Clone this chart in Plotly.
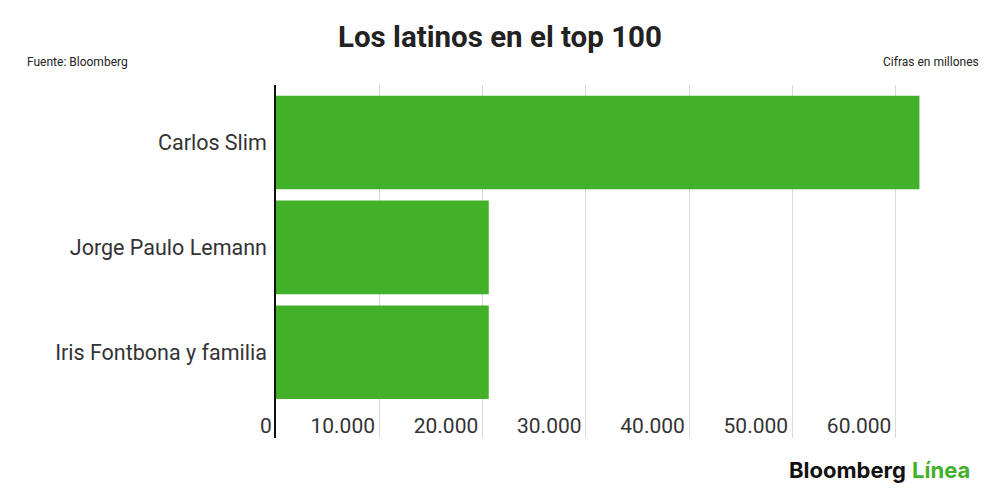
import plotly.graph_objects as go

# datos (millones de USD)
nombres = ["Carlos Slim", "Jorge Paulo Lemann", "Iris Fontbona y familia"]
fortunas = [62300, 20600, 20600]
ticks_x = [0, 10000, 20000, 30000, 40000, 50000, 60000]
ticks_txt = ["0", "10.000", "20.000", "30.000", "40.000", "50.000", "60.000"]

VERDE = "#43b02a"
FONT = "Roboto"

fig = go.Figure()
fig.add_trace(go.Bar(
    x=fortunas, y=nombres, orientation="h",
    marker=dict(color=VERDE, line=dict(width=0)),
    hoverinfo="x+y",
))

W, H = 1000, 500
left, right, top, bottom = 268, 929, 77, 430
ph = bottom - top
pw = right - left
pos_axis = (bottom - 403) / ph

fig.update_layout(
    width=W, height=H,
    margin=dict(l=left, r=W - right, t=top, b=H - bottom, autoexpand=False),
    paper_bgcolor="white", plot_bgcolor="white",
    showlegend=False,
    bargap=0.107,
    font=dict(family=FONT, color="#333333"),
    title=dict(text="<b>Los latinos en el top 100</b>", x=492 / W, xanchor="center",
               y=1 - 29 / H, yanchor="middle", font=dict(size=29.5, color="#222222", family=FONT)),
    xaxis=dict(
        range=[0, 64000], tickvals=ticks_x,
        ticktext=[t + "\u2009" for t in ticks_txt],
        showgrid=True, gridcolor="#dadada", gridwidth=1,
        zeroline=False, showline=False, ticks="",
        anchor="free", position=pos_axis, automargin=False,
        ticklabelposition="outside left",
        tickfont=dict(size=21, color="#333333", family=FONT),
        fixedrange=True,
    ),
    yaxis=dict(
        categoryorder="array", categoryarray=nombres,
        range=[2.818, -0.549], automargin=False,
        showline=True, linecolor="#111111", linewidth=1.5,
        showgrid=False, zeroline=False, ticks="",
        ticklabelstandoff=3,
        tickfont=dict(size=21.5, color="#333333", family=FONT),
        fixedrange=True,
    ),
)

fig.add_annotation(text="Fuente: Bloomberg", xref="paper", yref="paper",
                   x=(17 - left) / pw, y=(bottom - 54) / ph, xanchor="left", yanchor="middle",
                   showarrow=False, font=dict(size=12, color="#222222", family=FONT))
fig.add_annotation(text="Cifras en millones", xref="paper", yref="paper",
                   x=(973 - left) / pw, y=(bottom - 54) / ph, xanchor="right", yanchor="middle",
                   showarrow=False, font=dict(size=12, color="#222222", family=FONT))
fig.add_annotation(text="<b>Bloomberg</b> <b><span style='color:" + VERDE + "'>Línea</span></b>",
                   xref="paper", yref="paper",
                   x=(964 - left) / pw, y=(bottom - 462) / ph, xanchor="right", yanchor="middle",
                   showarrow=False, font=dict(size=22, color="#111111", family="Inter"))

fig.write_html("out.html")
